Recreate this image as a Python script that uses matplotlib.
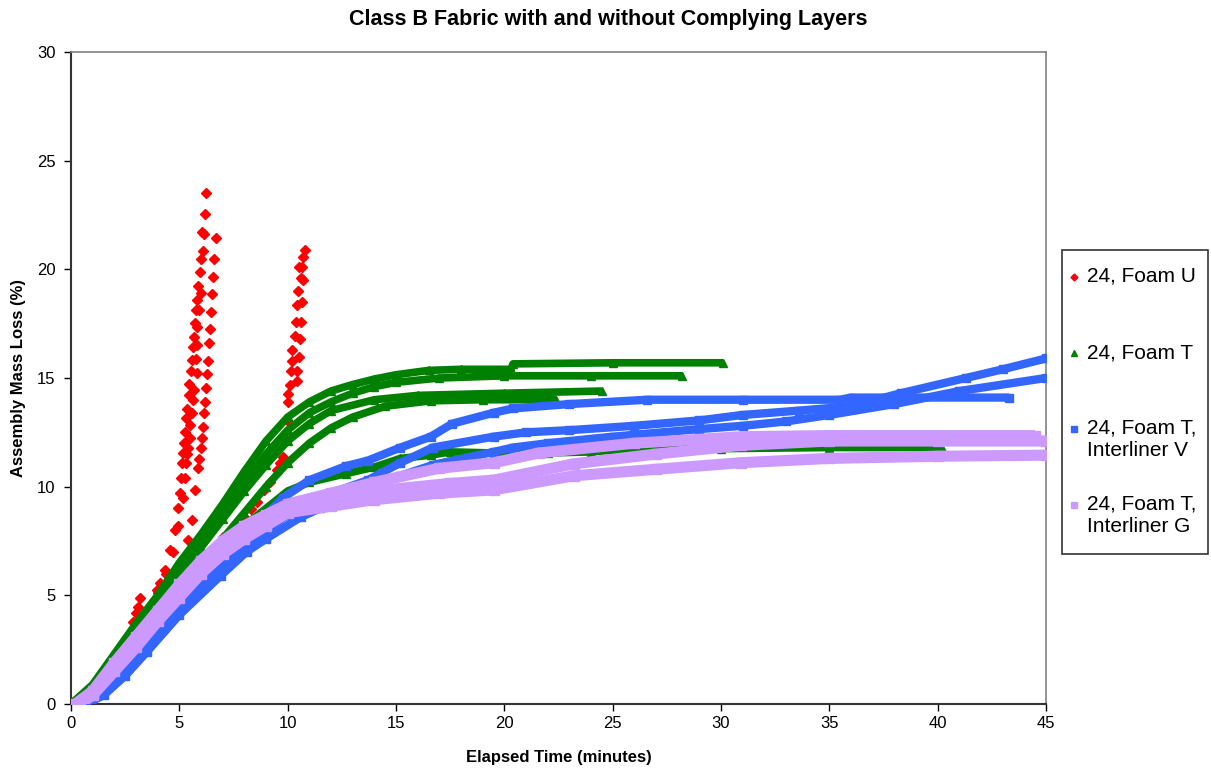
import matplotlib
matplotlib.use("Agg")
import matplotlib.pyplot as plt
from matplotlib.lines import Line2D
from matplotlib.patches import Rectangle

plt.rcParams["font.family"] = ["Liberation Sans", "DejaVu Sans"]

# ---------------- data ----------------
# 24, Foam U (red diamonds) - sparse readings, drawn as markers only
foam_u_a1_t = [0.5, 1.0, 1.5, 2.0, 2.5, 2.88, 3.0, 3.1, 3.18, 3.95, 4.1, 4.34, 4.57, 4.8, 4.95, 5.03, 5.08,
               5.11, 5.15, 5.21, 5.26, 5.31, 5.37, 5.43, 5.46, 5.52, 5.57, 5.61, 5.69, 5.72, 5.78, 5.81, 5.88,
               5.95, 5.98, 6.03, 6.18, 6.23]
foam_u_a1_y = [0.0, 0.6, 1.3, 2.1, 2.9, 3.79, 4.17, 4.48, 4.86, 5.25, 5.55, 6.17, 7.09, 8.0, 9.0, 9.7, 10.4,
               11.1, 11.57, 12.03, 12.53, 13.15, 13.59, 14.2, 14.71, 15.32, 15.83, 16.44, 16.9, 17.52, 18.13,
               18.61, 19.25, 19.86, 20.49, 21.73, 22.56, 23.53]
foam_u_a2_t = [0.6, 1.2, 2.0, 2.8, 3.5, 4.0, 4.4, 4.7, 4.95, 5.15, 5.25, 5.31, 5.37, 5.41, 5.49, 5.49, 5.57,
               5.61, 5.68, 5.8, 5.77, 5.8, 5.83, 5.92, 5.98, 6.08, 6.14]
foam_u_a2_y = [0.0, 0.8, 1.9, 3.0, 4.3, 5.1, 6.0, 7.0, 8.2, 9.5, 10.4, 11.1, 11.49, 11.77, 12.26, 12.84, 13.38,
               13.99, 14.45, 15.25, 15.89, 16.52, 17.34, 18.13, 18.91, 20.83, 21.61]
foam_u_b_t = [0.6, 1.5, 2.5, 3.5, 4.5, 5.0, 5.34, 5.41, 5.57, 5.72, 5.88, 5.92, 5.98, 6.03, 6.08, 6.14, 6.17,
              6.23, 6.28, 6.32, 6.37, 6.41, 6.46, 6.52, 6.57, 6.61, 6.68]
foam_u_b_y = [0.0, 1.2, 2.6, 3.9, 5.2, 5.9, 6.63, 7.55, 8.47, 9.85, 10.85, 11.29, 11.77, 12.26, 12.76, 13.38,
              13.88, 14.53, 15.17, 15.8, 16.6, 17.24, 18.05, 18.87, 19.67, 20.48, 21.45]
foam_u_c_t = [0.7, 1.0, 2.0, 3.0, 4.1, 5.0, 6.0, 6.5, 7.0, 7.5, 8.0, 8.3, 8.6, 8.9, 9.2, 9.5, 9.65, 9.8, 9.9,
              9.95, 10.01, 10.03, 10.11, 10.41, 10.14, 10.44, 10.18, 10.21, 10.51, 10.32, 10.55, 10.38, 10.6,
              10.41, 10.67, 10.46, 10.6, 10.69, 10.54, 10.65, 10.72, 10.8]
foam_u_c_y = [0.0, 0.3, 1.3, 2.4, 3.5, 4.6, 5.9, 6.7, 7.7, 8.2, 8.6, 8.95, 9.3, 9.85, 10.2, 10.77, 11.08,
              11.38, 12.2, 13.07, 13.91, 14.27, 14.68, 14.86, 15.32, 15.32, 15.8, 16.29, 15.98, 16.94, 16.78,
              17.57, 17.57, 18.36, 18.51, 19.02, 19.59, 19.51, 20.13, 20.13, 20.59, 20.89]

# 24, Foam T (green triangles)
foam_t_1_t = [0, 1, 2, 3, 4, 5, 6, 7, 8, 9, 10, 11, 12, 13, 14, 15, 16.5, 18, 20.3, 20.4, 25, 30.1]
foam_t_1_y = [0.0, 0.9, 2.3, 3.7, 5.0, 6.5, 7.8, 9.2, 10.7, 12.1, 13.2, 13.9, 14.4, 14.7, 14.95, 15.15, 15.35,
              15.4, 15.4, 15.65, 15.7, 15.7]
foam_t_2_t = [0, 1, 2, 3, 4, 5, 6, 7, 8, 9, 10, 11, 12, 13, 14, 15, 17, 20, 24, 28.2]
foam_t_2_y = [0.0, 0.8, 2.1, 3.5, 4.8, 6.2, 7.5, 8.8, 10.2, 11.5, 12.6, 13.4, 13.9, 14.3, 14.6, 14.8, 15.0,
              15.1, 15.1, 15.1]
foam_t_3_t = [0, 1, 2, 3, 4, 5, 6, 7, 8, 9, 10, 11, 12, 14, 16, 20, 24.5]
foam_t_3_y = [0.0, 0.8, 2.0, 3.3, 4.6, 5.9, 7.2, 8.5, 9.8, 11.0, 12.1, 12.9, 13.5, 14.0, 14.2, 14.3, 14.4]
foam_t_4_t = [0, 1, 2, 3, 4, 5, 6, 7, 8, 9, 10, 11, 12, 13, 14.5, 16.6, 19, 22.4]
foam_t_4_y = [0.0, 0.6, 1.7, 2.9, 4.0, 5.2, 6.4, 7.6, 8.8, 10.0, 11.1, 12.0, 12.7, 13.2, 13.7, 13.95, 14.0, 14.0]
foam_t_5_t = [0, 1, 2, 3, 4, 5, 6, 7, 8, 9, 10, 11, 12.7, 14, 15.2, 16.6, 17.5, 19.5, 22, 24, 26, 30, 35, 40.2]
foam_t_5_y = [0.0, 0.6, 1.6, 2.8, 3.9, 5.0, 6.1, 7.2, 8.2, 9.0, 9.8, 10.2, 10.6, 10.9, 11.3, 11.45, 11.6, 11.55,
              11.55, 11.6, 11.75, 11.75, 11.8, 11.8]

# 24, Foam T, Interliner V (blue squares)
interliner_v_1_t = [0.3, 1, 2, 3, 4, 5, 6, 7, 8, 9, 9.8, 11, 12.7, 13.7, 15.2, 16.6, 17.6, 19.5, 20.4, 23,
                    26.6, 31, 35.5, 36, 43.3]
interliner_v_1_y = [0.0, 0.3, 1.2, 2.3, 3.5, 4.6, 5.7, 6.8, 7.8, 8.7, 9.5, 10.3, 10.95, 11.2, 11.8, 12.3, 12.9,
                    13.4, 13.6, 13.8, 14.0, 14.0, 14.0, 14.1, 14.1]
interliner_v_2_t = [0.5, 1.5, 3, 5, 7, 8, 9, 10, 11, 12, 13.7, 15.2, 16.7, 19.5, 21, 23, 26, 29, 31, 33.6, 36,
                    38.3, 41.3, 43, 45]
interliner_v_2_y = [0.0, 0.6, 2.2, 4.4, 6.4, 7.3, 8.0, 8.7, 9.2, 9.7, 10.3, 11.1, 11.8, 12.3, 12.5, 12.6, 12.8,
                    13.05, 13.3, 13.5, 13.7, 14.3, 15.0, 15.4, 15.9]
interliner_v_3_t = [0.7, 1.5, 2.5, 3.5, 5, 6.9, 8.1, 9, 10.6, 11.5, 12, 13.7, 15.2, 16.7, 19.5, 20.4, 22, 25, 29,
                    31, 33, 35, 38, 41, 45]
interliner_v_3_y = [0.0, 0.4, 1.3, 2.4, 4.1, 5.9, 7.0, 7.6, 8.6, 9.0, 9.4, 10.0, 10.5, 11.0, 11.6, 11.8, 12.0,
                    12.3, 12.65, 12.8, 13.0, 13.3, 13.8, 14.4, 15.0]

# 24, Foam T, Interliner G (purple squares)
interliner_g_1_t = [0.2, 1, 2, 3, 4, 5, 6, 7, 8, 9, 10, 12, 14, 17, 19.5, 21.6, 26, 31, 35, 40, 44.5]
interliner_g_1_y = [0.0, 0.6, 1.9, 3.1, 4.3, 5.5, 6.6, 7.5, 8.2, 8.7, 9.2, 9.7, 10.2, 10.85, 11.1, 11.55, 12.0,
                    12.3, 12.35, 12.35, 12.35]
interliner_g_2_t = [0.3, 1, 2, 3, 4, 5, 6, 7, 8, 9, 10, 12, 14, 17.5, 19.5, 23.2, 27, 30.9, 35, 40, 45]
interliner_g_2_y = [0.0, 0.5, 1.7, 2.9, 4.0, 5.2, 6.3, 7.2, 7.9, 8.5, 9.0, 9.4, 9.8, 10.15, 10.3, 11.05, 11.5,
                    11.9, 12.1, 12.1, 12.1]
interliner_g_3_t = [0.4, 1, 2, 3, 4, 5, 6, 7, 8, 9, 10, 12, 14, 17, 19.5, 23.2, 27, 30.9, 35, 40, 45]
interliner_g_3_y = [0.0, 0.4, 1.5, 2.6, 3.8, 4.9, 6.0, 6.9, 7.6, 8.2, 8.8, 9.1, 9.4, 9.7, 9.85, 10.5, 10.8,
                    11.1, 11.3, 11.4, 11.45]

legend_labels = ["24, Foam U", "24, Foam T", "24, Foam T,\nInterliner V", "24, Foam T,\nInterliner G"]
x_ticks = [0, 5, 10, 15, 20, 25, 30, 35, 40, 45]
y_ticks = [0, 5, 10, 15, 20, 25, 30]

RED = "#FF0000"
GREEN = "#008000"
BLUE = "#3366FF"
PURPLE = "#CC99FF"

# ---------------- figure ----------------
fig = plt.figure(figsize=(12.11, 7.74), dpi=100)
ax = fig.add_axes([71 / 1211, 1 - 704 / 774, 975 / 1211, 652 / 774])

red_runs = [(foam_u_a1_t, foam_u_a1_y), (foam_u_a2_t, foam_u_a2_y),
            (foam_u_b_t, foam_u_b_y), (foam_u_c_t, foam_u_c_y)]
for t, y in red_runs:
    ax.plot(t, y, ls="none", color=RED, marker="D", ms=5, mec=RED, zorder=2)

green_runs = [(foam_t_1_t, foam_t_1_y), (foam_t_2_t, foam_t_2_y), (foam_t_3_t, foam_t_3_y),
              (foam_t_4_t, foam_t_4_y), (foam_t_5_t, foam_t_5_y)]
for t, y in green_runs:
    ax.plot(t, y, color=GREEN, lw=5.5, marker="^", ms=6, solid_capstyle="butt", zorder=3)

blue_runs = [(interliner_v_1_t, interliner_v_1_y), (interliner_v_2_t, interliner_v_2_y),
             (interliner_v_3_t, interliner_v_3_y)]
for t, y in blue_runs:
    ax.plot(t, y, color=BLUE, lw=6, marker="s", ms=6, solid_capstyle="butt", zorder=4)

purple_runs = [(interliner_g_1_t, interliner_g_1_y), (interliner_g_2_t, interliner_g_2_y),
               (interliner_g_3_t, interliner_g_3_y)]
for t, y in purple_runs:
    ax.plot(t, y, color=PURPLE, lw=8, marker="s", ms=7, solid_capstyle="butt", zorder=5)

ax.set_xlim(0, 45)
ax.set_ylim(0, 30)
ax.set_xticks(x_ticks)
ax.set_yticks(y_ticks)
ax.tick_params(direction="out", length=5, width=1, labelsize=12, colors="black")
ax.tick_params(axis="x", pad=4)
ax.tick_params(axis="y", pad=6)
for side in ["top", "right"]:
    ax.spines[side].set_color("#808080")
    ax.spines[side].set_linewidth(1.2)
for side in ["left", "bottom"]:
    ax.spines[side].set_color("#333333")
    ax.spines[side].set_linewidth(1.5)

ax.set_xlabel("Elapsed Time (minutes)", fontsize=12, fontweight="bold", labelpad=13)
ax.set_ylabel("Assembly Mass Loss (%)", fontsize=12, fontweight="bold", labelpad=8)
fig.text(608 / 1211, 1 - 20 / 774, "Class B Fabric with and without Complying Layers",
         ha="center", va="center", fontsize=15.5, fontweight="bold")

# legend box drawn by hand so the marker sits on the first text line
fig.patches.append(Rectangle((1062 / 1211, 1 - 554 / 774), 146 / 1211, 304 / 774,
                             transform=fig.transFigure, fill=False, ec="#333333", lw=1.2))
legend_marks = [("D", RED, 3.5), ("^", GREEN, 4.5), ("s", BLUE, 4), ("s", PURPLE, 4)]
legend_y = [277, 353, 429, 505]
for (mk, col, ms), label, py in zip(legend_marks, legend_labels, legend_y):
    fig.add_artist(Line2D([1074 / 1211], [1 - py / 774], marker=mk, color=col, ms=ms, ls="none",
                          transform=fig.transFigure))
    fig.text(1087 / 1211, 1 - (py - 10) / 774, label, ha="left", va="top", fontsize=15,
             linespacing=1.2)

fig.savefig("out.png", dpi=100)
